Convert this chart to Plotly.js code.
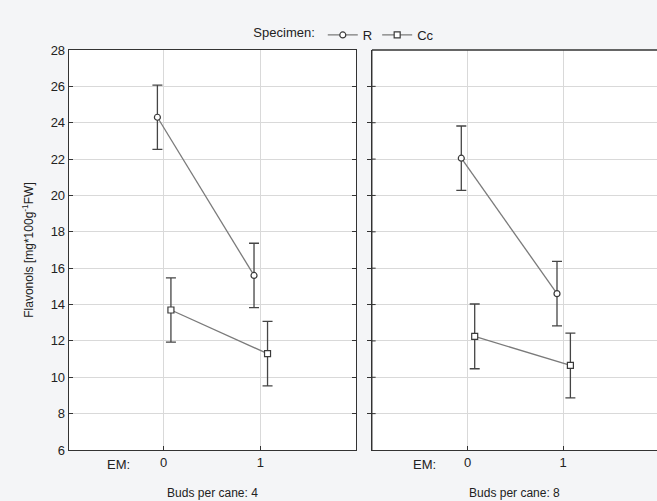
<!DOCTYPE html>
<html>
<head>
<meta charset="utf-8">
<script src="https://cdn.plot.ly/plotly-3.0.1.min.js"></script>
<style>html,body{margin:0;padding:0;background:#f4f5f7;}#chart{width:657px;height:501px;}</style>
</head>
<body>
<div id="chart"></div>
<script>
// Data
const emLevels = [0, 1];
const panels = ["Buds per cane: 4", "Buds per cane: 8"];
const seriesNames = ["R", "Cc"];
const rBuds4 = [24.3, 15.6];
const ccBuds4 = [13.7, 11.3];
const rBuds8 = [22.05, 14.6];
const ccBuds8 = [12.25, 10.65];
const errR4 = [1.77, 1.77];
const errCc4 = [1.77, 1.77];
const errR8 = [1.77, 1.77];
const errCc8 = [1.78, 1.78];
const yTicks = [6, 8, 10, 12, 14, 16, 18, 20, 22, 24, 26, 28];

const offR = -0.065, offCc = 0.075;
const shift = (arr, d) => arr.map(v => v + d);

function mk(name, x, y, err, symbol, xa, show) {
  return {
    type: 'scatter', mode: 'lines+markers', name: name,
    x: x, y: y, xaxis: xa, yaxis: 'y',
    showlegend: show, legendgroup: name,
    line: {color: '#7a7a7a', width: 1.3},
    marker: {symbol: symbol, size: 6, color: '#ffffff', line: {color: '#3a3a3a', width: 1.2}},
    error_y: {type: 'data', array: err, visible: true, color: '#454545', thickness: 1.3, width: 5}
  };
}

const data = [
  mk(seriesNames[0], shift(emLevels, offR), rBuds4, errR4, 'circle', 'x', true),
  mk(seriesNames[1], shift(emLevels, offCc), ccBuds4, errCc4, 'square', 'x', true),
  mk(seriesNames[0], shift(emLevels, offR), rBuds8, errR8, 'circle', 'x2', false),
  mk(seriesNames[1], shift(emLevels, offCc), ccBuds8, errCc8, 'square', 'x2', false)
];

const fontMain = {family: 'Liberation Sans, Arial, sans-serif', size: 13, color: '#222'};
const fontSmall = {family: 'Liberation Sans, Arial, sans-serif', size: 12, color: '#222'};
const xBase = {
  tickvals: emLevels, ticktext: emLevels.map(String),
  ticks: 'inside', ticklen: 4, tickcolor: '#333',
  showgrid: true, gridcolor: '#d9d9d9', gridwidth: 1,
  zeroline: false, showline: true, linecolor: '#333', linewidth: 1.3,
  tickfont: fontMain, fixedrange: true
};
const layout = {
  width: 657, height: 501,
  paper_bgcolor: '#f4f5f7', plot_bgcolor: '#ffffff',
  margin: {l: 69, r: 0, t: 50, b: 51},
  font: fontMain,
  showlegend: true,
  legend: {orientation: 'h', x: 0.47, xanchor: 'center', y: 1.0, yanchor: 'bottom',
           title: {text: 'Specimen:', side: 'left', font: fontMain},
           font: fontMain, bgcolor: 'rgba(0,0,0,0)', itemwidth: 30, tracegroupgap: 0},
  xaxis: Object.assign({}, xBase, {domain: [0, 0.488], range: [-0.98, 1.99], mirror: true,
          title: {text: panels[0], font: fontSmall, standoff: 19}}),
  xaxis2: Object.assign({}, xBase, {domain: [0.515, 1], range: [-1, 1.98], mirror: false, anchor: 'y',
          title: {text: panels[1], font: fontSmall, standoff: 19}}),
  yaxis: {range: [6, 28], tickvals: yTicks, ticks: 'inside', ticklen: 4, tickcolor: '#333',
          showgrid: true, gridcolor: '#d9d9d9', zeroline: false, showline: true, linecolor: '#333',
          linewidth: 1.3, mirror: 'allticks', tickfont: fontMain, fixedrange: true,
          title: {text: 'Flavonols [mg*100g<sup>-1</sup>FW]', font: fontSmall, standoff: 14}},
  annotations: [
    {text: 'EM:', xref: 'x', yref: 'paper', x: -0.47, y: 0, yanchor: 'top', yshift: -5, showarrow: false, font: fontMain},
    {text: 'EM:', xref: 'x2', yref: 'paper', x: -0.45, y: 0, yanchor: 'top', yshift: -5, showarrow: false, font: fontMain}
  ],
  shapes: [
    {type: 'line', xref: 'x2', yref: 'paper', x0: -1, x1: -1, y0: 0, y1: 1, line: {color: '#333', width: 1.3}},
    {type: 'line', xref: 'x2', yref: 'paper', x0: -1, x1: 1.98, y0: 1, y1: 1, line: {color: '#333', width: 1.3}}
  ]
};
// y-axis ticks for right panel
yTicks.forEach(t => {
  if (t > 6 && t < 28) {
    layout.shapes.push({type: 'line', xref: 'x2', yref: 'y', x0: -1, x1: -0.96, y0: t, y1: t, line: {color: '#333', width: 1}});
  }
});
Plotly.newPlot('chart', data, layout, {displayModeBar: false, staticPlot: true});
</script>
</body>
</html>
